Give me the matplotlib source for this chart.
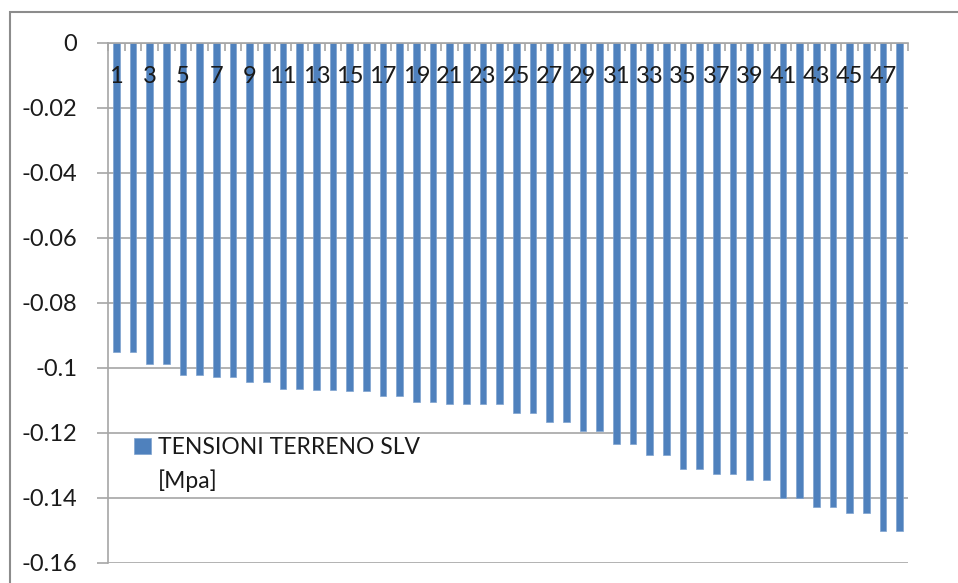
import matplotlib.pyplot as plt
import numpy as np
from matplotlib.patches import Patch, Rectangle

# tensioni sul terreno per ogni punto (Mpa)
punti = np.arange(1, 49)
tensioni = [-0.0951, -0.0951, -0.0990, -0.0990, -0.1022, -0.1022, -0.1030, -0.1030,
            -0.1045, -0.1045, -0.1066, -0.1066, -0.1070, -0.1070, -0.1073, -0.1073,
            -0.1087, -0.1087, -0.1105, -0.1105, -0.1112, -0.1112, -0.1112, -0.1112,
            -0.1139, -0.1139, -0.1167, -0.1167, -0.1195, -0.1195, -0.1234, -0.1234,
            -0.1269, -0.1269, -0.1313, -0.1313, -0.1328, -0.1328, -0.1346, -0.1346,
            -0.1402, -0.1402, -0.1428, -0.1428, -0.1448, -0.1448, -0.1502, -0.1502]
yticks = [0, -0.02, -0.04, -0.06, -0.08, -0.1, -0.12, -0.14, -0.16]
ylabels = ['0', '-0.02', '-0.04', '-0.06', '-0.08', '-0.1', '-0.12', '-0.14', '-0.16']
serie = 'TENSIONI TERRENO SLV'
unita = '[Mpa]'

plt.rcParams['font.family'] = ['Lato', 'DejaVu Sans']
blu = '#4F81BD'
grigio = '#a6a6a6'

fig = plt.figure(figsize=(9.58, 5.83), dpi=100)
ax = fig.add_axes([108/958, 1-562.7/583, 800/958, 520/583])

# griglia orizzontale dietro le barre
for v in yticks:
    ax.axhline(v, color=grigio, lw=1.2, zorder=0)

barre = ax.bar(punti, tensioni, width=0.4, color=blu, edgecolor='#7fa3d0', lw=0.5, zorder=2)

ax.set_xlim(0.5, 48.5)
ax.set_ylim(-0.16, 0)
ax.set_axisbelow(False)

ax.set_yticks(yticks)
ax.set_yticklabels(ylabels)
ax.tick_params(axis='y', direction='out', length=8, width=1.2, color=grigio,
               labelsize=17, pad=14, labelcolor='#1a1a1a')

# etichette dei punti sotto l'asse in alto
ax.xaxis.tick_top()
ax.set_xticks(punti[::2])
ax.set_xticklabels([str(p) for p in punti[::2]])
ax.set_xticks(np.arange(0.5, 49, 1), minor=True)
ax.tick_params(axis='x', which='major', length=0, labelsize=17, pad=-24, labelcolor='#1a1a1a')
ax.tick_params(axis='x', which='minor', direction='in', length=6, width=1.2, color=grigio)
for lab in ax.get_xticklabels():
    lab.set_va('center')

for s in ['right', 'bottom']:
    ax.spines[s].set_visible(False)
for s in ['left', 'top']:
    ax.spines[s].set_color(grigio)
    ax.spines[s].set_linewidth(1.2)

ax.legend([barre, Patch(facecolor='none', edgecolor='none')], [serie, unita],
          loc='upper left', bbox_to_anchor=(26/800, 1-(437-42.7)/520), frameon=False,
          fontsize=16.5, handlelength=0.75, handleheight=0.75, handletextpad=0.3,
          labelspacing=0.5, borderpad=0, borderaxespad=0, labelcolor='#1a1a1a')

# cornice del grafico
fig.patches.append(Rectangle((10/958, -0.1), 1.0, 1.1-12/583, transform=fig.transFigure,
                             fill=False, edgecolor='#8c8c8c', lw=1.5, clip_on=False))

fig.savefig('out.png', dpi=100)
